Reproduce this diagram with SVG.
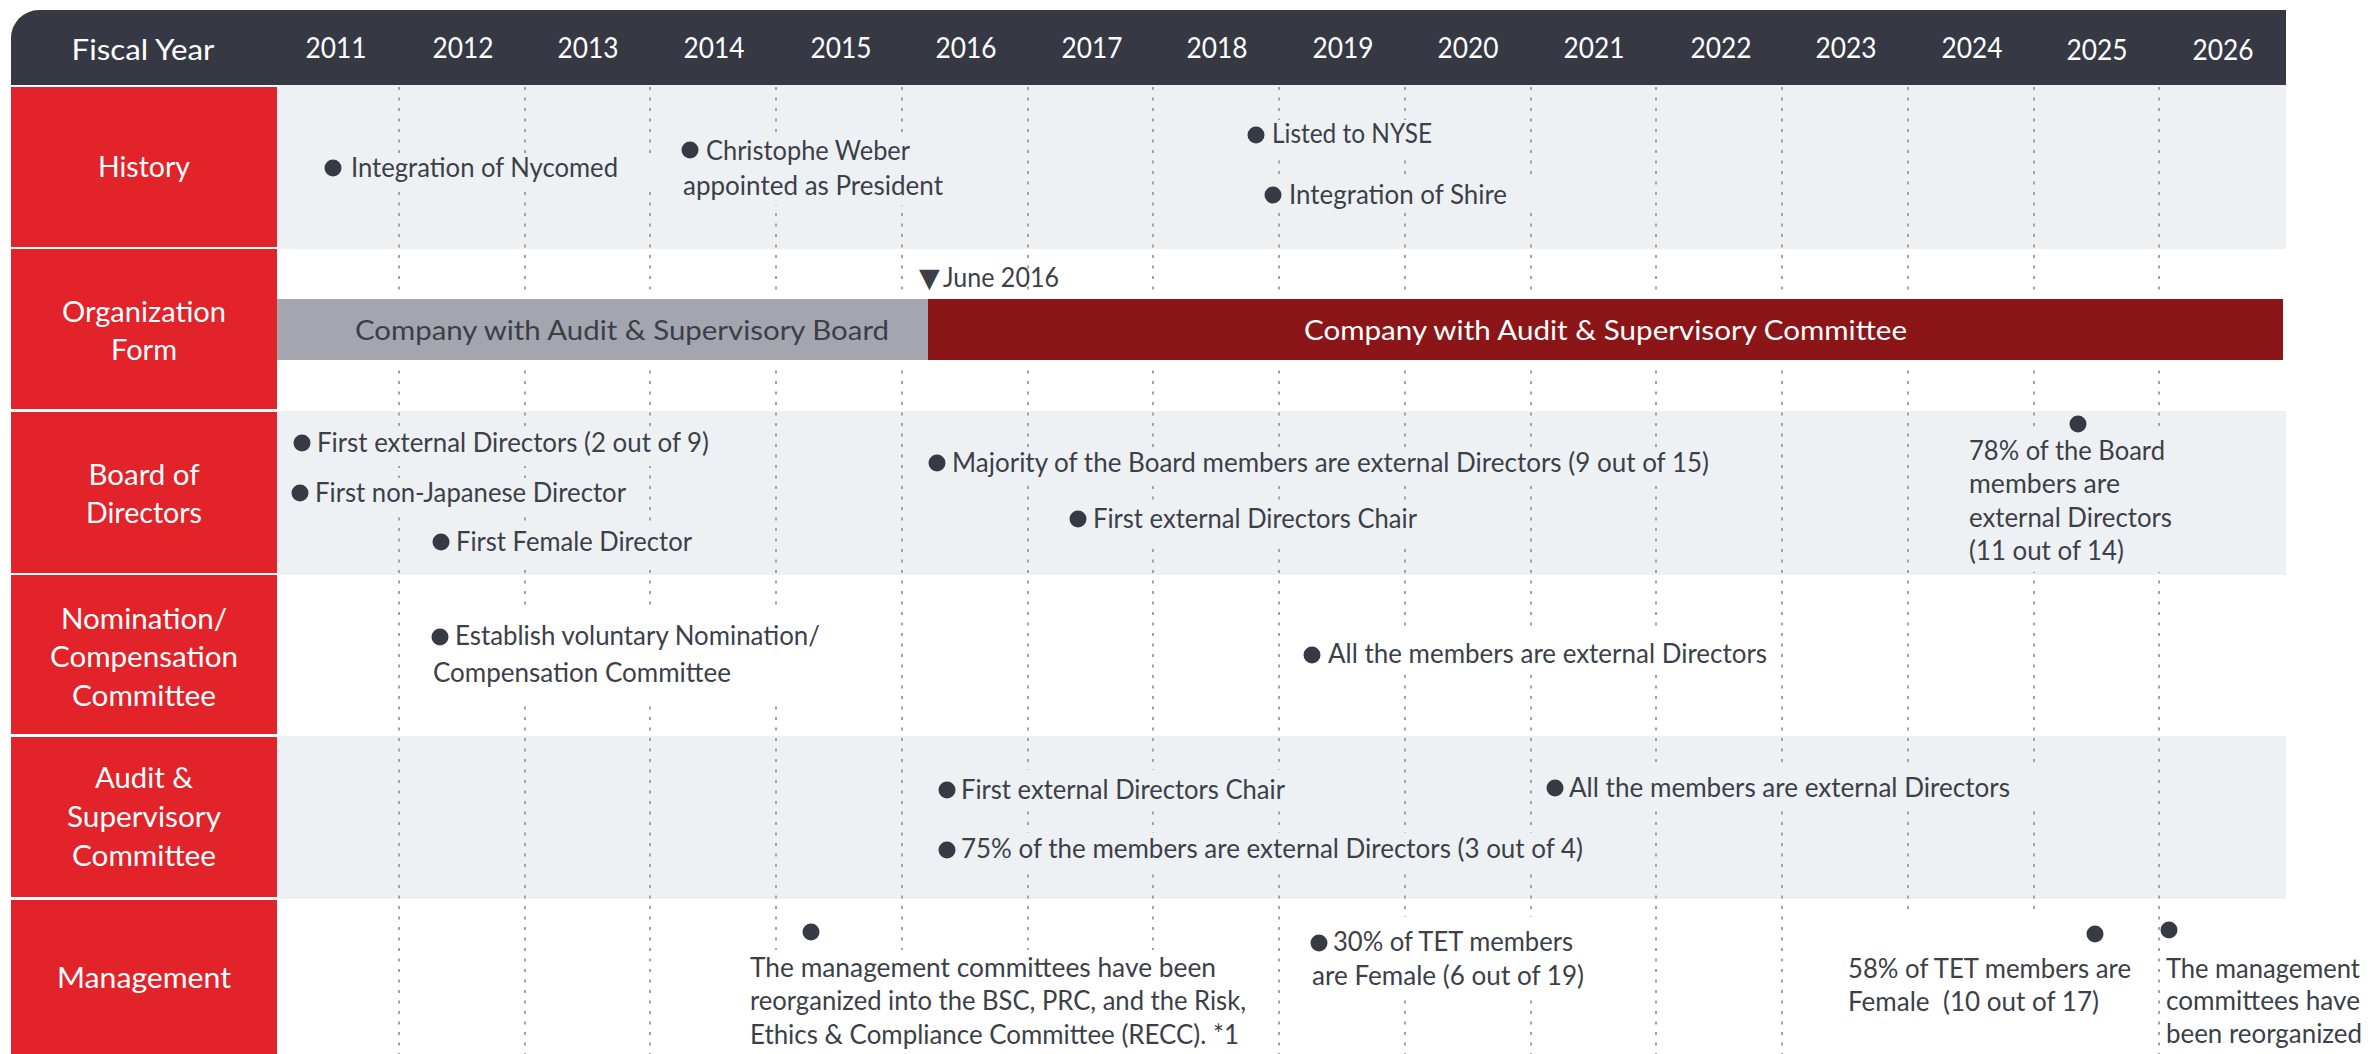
<svg xmlns="http://www.w3.org/2000/svg" width="2371" height="1054" viewBox="0 0 2371 1054">
<style>
text{font-family:Lato,"Liberation Sans",sans-serif}
.lbl{fill:#fff;font-size:29px;text-anchor:middle}
.yr{fill:#fff;font-size:28px;text-anchor:middle}
.t{fill:#3c3f48;font-size:26px}
.dot{fill:#363a45}
.red{fill:#e2232a}
.band{fill:#edf1f4}
.mg{fill:#edf1f4}
.mw{fill:#fff}
#grid line{stroke:#a3a3a3;stroke-width:2;stroke-dasharray:3 7.5}
</style>
<rect width="2371" height="1054" fill="#fff"/>
<g id="bands">
<rect class="band" x="277" y="85" width="2009" height="164"/>
<rect class="band" x="277" y="411" width="2009" height="164"/>
<rect class="band" x="277" y="736" width="2009" height="163"/>
</g>
<g id="grid">
<line x1="399" y1="87" x2="399" y2="1054"/>
<line x1="525" y1="87" x2="525" y2="1054"/>
<line x1="650" y1="87" x2="650" y2="1054"/>
<line x1="776" y1="87" x2="776" y2="1054"/>
<line x1="902" y1="87" x2="902" y2="1054"/>
<line x1="1028" y1="87" x2="1028" y2="1054"/>
<line x1="1153" y1="87" x2="1153" y2="1054"/>
<line x1="1279" y1="87" x2="1279" y2="1054"/>
<line x1="1405" y1="87" x2="1405" y2="1054"/>
<line x1="1531" y1="87" x2="1531" y2="1054"/>
<line x1="1656" y1="87" x2="1656" y2="1054"/>
<line x1="1782" y1="87" x2="1782" y2="1054"/>
<line x1="1908" y1="87" x2="1908" y2="1054"/>
<line x1="2034" y1="87" x2="2034" y2="1054"/>
<line x1="2159" y1="87" x2="2159" y2="1054"/>
</g>
<g id="masks">
<rect class="mg" x="322" y="153" width="333" height="39"/>
<rect class="mg" x="679" y="133" width="271" height="72"/>
<rect class="mg" x="1244" y="120" width="196" height="37"/>
<rect class="mg" x="1262" y="180" width="278" height="33"/>
<rect class="mw" x="277" y="291" width="2009" height="75"/>
<rect class="mg" x="290" y="428" width="450" height="38"/>
<rect class="mg" x="288" y="478" width="348" height="38"/>
<rect class="mg" x="430" y="527" width="274" height="38"/>
<rect class="mg" x="925" y="448" width="795" height="38"/>
<rect class="mg" x="1066" y="504" width="364" height="38"/>
<rect class="mg" x="1960" y="432" width="220" height="140"/>
<rect class="mw" x="428" y="612" width="404" height="93"/>
<rect class="mw" x="1300" y="633" width="475" height="39"/>
<rect class="mg" x="935" y="770" width="362" height="40"/>
<rect class="mg" x="935" y="833" width="660" height="37"/>
<rect class="mg" x="1543" y="765" width="497" height="45"/>
<rect class="mw" x="745" y="950" width="510" height="104"/>
<rect class="mw" x="1305" y="917" width="290" height="83"/>
<rect class="mw" x="1840" y="913" width="300" height="141"/>
<rect class="mw" x="2163" y="918" width="208" height="136"/>
</g>
<g id="header">
<path d="M11,85 V38 A28,28 0 0 1 39,10 H2286 V85 Z" fill="#363944"/>
<text class="lbl" x="143" y="60" font-size="31" textLength="143" lengthAdjust="spacingAndGlyphs">Fiscal Year</text>
<text class="yr" x="336" y="58" textLength="61" lengthAdjust="spacingAndGlyphs">2011</text>
<text class="yr" x="463" y="58" textLength="61" lengthAdjust="spacingAndGlyphs">2012</text>
<text class="yr" x="588" y="58" textLength="61" lengthAdjust="spacingAndGlyphs">2013</text>
<text class="yr" x="714" y="58" textLength="61" lengthAdjust="spacingAndGlyphs">2014</text>
<text class="yr" x="841" y="58" textLength="61" lengthAdjust="spacingAndGlyphs">2015</text>
<text class="yr" x="966" y="58" textLength="61" lengthAdjust="spacingAndGlyphs">2016</text>
<text class="yr" x="1092" y="58" textLength="61" lengthAdjust="spacingAndGlyphs">2017</text>
<text class="yr" x="1217" y="58" textLength="61" lengthAdjust="spacingAndGlyphs">2018</text>
<text class="yr" x="1343" y="58" textLength="61" lengthAdjust="spacingAndGlyphs">2019</text>
<text class="yr" x="1468" y="58" textLength="61" lengthAdjust="spacingAndGlyphs">2020</text>
<text class="yr" x="1594" y="58" textLength="61" lengthAdjust="spacingAndGlyphs">2021</text>
<text class="yr" x="1721" y="58" textLength="61" lengthAdjust="spacingAndGlyphs">2022</text>
<text class="yr" x="1846" y="58" textLength="61" lengthAdjust="spacingAndGlyphs">2023</text>
<text class="yr" x="1972" y="58" textLength="61" lengthAdjust="spacingAndGlyphs">2024</text>
<text class="yr" x="2097" y="60" textLength="61" lengthAdjust="spacingAndGlyphs">2025</text>
<text class="yr" x="2223" y="60" textLength="61" lengthAdjust="spacingAndGlyphs">2026</text>
</g>
<g id="row-history"><rect class="red" x="11" y="87" width="266" height="160"/>
<text class="lbl" x="144" y="177" textLength="92" lengthAdjust="spacingAndGlyphs">History</text></g>
<g id="row-organization"><rect class="red" x="11" y="249" width="266" height="160"/>
<text class="lbl" x="144" y="322" textLength="164" lengthAdjust="spacingAndGlyphs">Organization</text>
<text class="lbl" x="144" y="360" textLength="66" lengthAdjust="spacingAndGlyphs">Form</text></g>
<g id="row-board"><rect class="red" x="11" y="412" width="266" height="161"/>
<text class="lbl" x="144" y="485" textLength="111" lengthAdjust="spacingAndGlyphs">Board of</text>
<text class="lbl" x="144" y="523" textLength="116" lengthAdjust="spacingAndGlyphs">Directors</text></g>
<g id="row-nomination"><rect class="red" x="11" y="575" width="266" height="159"/>
<text class="lbl" x="144" y="629" textLength="166" lengthAdjust="spacingAndGlyphs">Nomination/</text>
<text class="lbl" x="144" y="667" textLength="188" lengthAdjust="spacingAndGlyphs">Compensation</text>
<text class="lbl" x="144" y="706" textLength="144" lengthAdjust="spacingAndGlyphs">Committee</text></g>
<g id="row-audit"><rect class="red" x="11" y="737" width="266" height="160"/>
<text class="lbl" x="144" y="788" textLength="98" lengthAdjust="spacingAndGlyphs">Audit &amp;</text>
<text class="lbl" x="144" y="827" textLength="154" lengthAdjust="spacingAndGlyphs">Supervisory</text>
<text class="lbl" x="144" y="866" textLength="144" lengthAdjust="spacingAndGlyphs">Committee</text></g>
<g id="row-management"><rect class="red" x="11" y="900" width="266" height="154"/>
<text class="lbl" x="144" y="988" textLength="174" lengthAdjust="spacingAndGlyphs">Management</text></g>
<g id="ev-nycomed"><circle class="dot" cx="333" cy="168" r="8.5"/>
<text class="t" x="351" y="177" textLength="267" lengthAdjust="spacingAndGlyphs">Integration of Nycomed</text></g>
<g id="ev-weber"><circle class="dot" cx="690" cy="150" r="8.5"/>
<text class="t" x="706" y="160" textLength="204" lengthAdjust="spacingAndGlyphs">Christophe Weber</text>
<text class="t" x="683" y="195" textLength="260" lengthAdjust="spacingAndGlyphs">appointed as President</text></g>
<g id="ev-nyse"><circle class="dot" cx="1256" cy="135" r="8.5"/>
<text class="t" x="1272" y="143" textLength="160" lengthAdjust="spacingAndGlyphs">Listed to NYSE</text></g>
<g id="ev-shire"><circle class="dot" cx="1273" cy="195" r="8.5"/>
<text class="t" x="1289" y="204" textLength="218" lengthAdjust="spacingAndGlyphs">Integration of Shire</text></g>
<g id="org-june"><text class="t" x="919" y="287"><tspan font-family="DejaVu Sans" font-size="27">▼</tspan><tspan x="943" y="287" textLength="116" lengthAdjust="spacingAndGlyphs">June 2016</tspan></text></g>
<g id="org-board"><rect x="277" y="299" width="651" height="61" fill="#a3a6ae"/>
<text class="t" x="355" y="340" font-size="28" textLength="534" lengthAdjust="spacingAndGlyphs">Company with Audit &amp; Supervisory Board</text></g>
<g id="org-committee"><rect x="928" y="299" width="1355" height="61" fill="#8b1517"/>
<text class="t" x="1304" y="340" font-size="28" style="fill:#fff" textLength="603" lengthAdjust="spacingAndGlyphs">Company with Audit &amp; Supervisory Committee</text></g>
<g id="bd-1"><circle class="dot" cx="302" cy="443" r="8.5"/>
<text class="t" x="317" y="452" textLength="392" lengthAdjust="spacingAndGlyphs">First external Directors (2 out of 9)</text></g>
<g id="bd-2"><circle class="dot" cx="300" cy="493" r="8.5"/>
<text class="t" x="315" y="502" textLength="311" lengthAdjust="spacingAndGlyphs">First non-Japanese Director</text></g>
<g id="bd-3"><circle class="dot" cx="441" cy="542" r="8.5"/>
<text class="t" x="456" y="551" textLength="236" lengthAdjust="spacingAndGlyphs">First Female Director</text></g>
<g id="bd-4"><circle class="dot" cx="937" cy="463" r="8.5"/>
<text class="t" x="952" y="472" textLength="757" lengthAdjust="spacingAndGlyphs">Majority of the Board members are external Directors (9 out of 15)</text></g>
<g id="bd-5"><circle class="dot" cx="1078" cy="519" r="8.5"/>
<text class="t" x="1093" y="528" textLength="324" lengthAdjust="spacingAndGlyphs">First external Directors Chair</text></g>
<g id="bd-6"><circle class="dot" cx="2078" cy="424" r="8.5"/>
<text class="t" x="1969" y="460" textLength="196" lengthAdjust="spacingAndGlyphs">78% of the Board</text>
<text class="t" x="1969" y="493" textLength="151" lengthAdjust="spacingAndGlyphs">members are</text>
<text class="t" x="1969" y="527" textLength="203" lengthAdjust="spacingAndGlyphs">external Directors</text>
<text class="t" x="1969" y="560" textLength="155" lengthAdjust="spacingAndGlyphs">(11 out of 14)</text></g>
<g id="nc-1"><circle class="dot" cx="440" cy="637" r="8.5"/>
<text class="t" x="455" y="645" textLength="365" lengthAdjust="spacingAndGlyphs">Establish voluntary Nomination/</text>
<text class="t" x="433" y="682" textLength="298" lengthAdjust="spacingAndGlyphs">Compensation Committee</text></g>
<g id="nc-2"><circle class="dot" cx="1312" cy="655" r="8.5"/>
<text class="t" x="1328" y="663" textLength="439" lengthAdjust="spacingAndGlyphs">All the members are external Directors</text></g>
<g id="as-1"><circle class="dot" cx="947" cy="790" r="8.5"/>
<text class="t" x="961" y="799" textLength="324" lengthAdjust="spacingAndGlyphs">First external Directors Chair</text></g>
<g id="as-2"><circle class="dot" cx="947" cy="850" r="8.5"/>
<text class="t" x="961" y="858" textLength="622" lengthAdjust="spacingAndGlyphs">75% of the members are external Directors (3 out of 4)</text></g>
<g id="as-3"><circle class="dot" cx="1555" cy="788" r="8.5"/>
<text class="t" x="1569" y="797" textLength="441" lengthAdjust="spacingAndGlyphs">All the members are external Directors</text></g>
<g id="mg-1"><circle class="dot" cx="811" cy="932" r="8.5"/>
<text class="t" x="750" y="977" textLength="466" lengthAdjust="spacingAndGlyphs">The management committees have been</text>
<text class="t" x="750" y="1010" textLength="496" lengthAdjust="spacingAndGlyphs">reorganized into the BSC, PRC, and the Risk,</text>
<text class="t" x="750" y="1044" textLength="489" lengthAdjust="spacingAndGlyphs">Ethics &amp; Compliance Committee (RECC). *1</text></g>
<g id="mg-2"><circle class="dot" cx="1319" cy="943" r="8.5"/>
<text class="t" x="1333" y="951" textLength="240" lengthAdjust="spacingAndGlyphs">30% of TET members</text>
<text class="t" x="1312" y="985" textLength="272" lengthAdjust="spacingAndGlyphs">are Female (6 out of 19)</text></g>
<g id="mg-3"><circle class="dot" cx="2095" cy="934" r="8.5"/>
<text class="t" x="1848" y="978" textLength="283" lengthAdjust="spacingAndGlyphs">58% of TET members are</text>
<text class="t" x="1848" y="1011" textLength="251" lengthAdjust="spacingAndGlyphs" xml:space="preserve">Female  (10 out of 17)</text></g>
<g id="mg-4"><circle class="dot" cx="2169" cy="930" r="8.5"/>
<text class="t" x="2166" y="978" textLength="194" lengthAdjust="spacingAndGlyphs">The management</text>
<text class="t" x="2166" y="1010" textLength="194" lengthAdjust="spacingAndGlyphs">committees have</text>
<text class="t" x="2166" y="1043" textLength="196" lengthAdjust="spacingAndGlyphs">been reorganized</text></g>
</svg>
